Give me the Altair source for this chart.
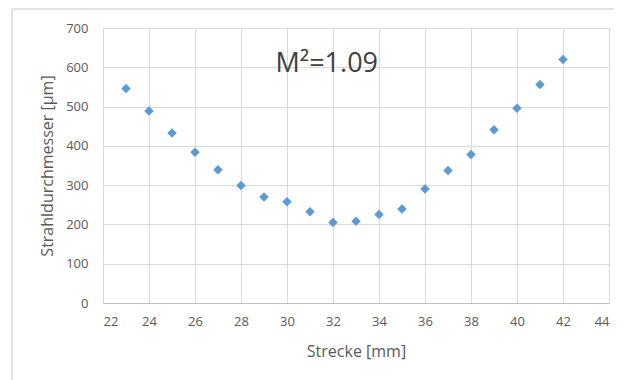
import altair as alt
import pandas as pd

strecke = [23, 24, 25, 26, 27, 28, 29, 30, 31, 32, 33, 34, 35, 36, 37, 38, 39, 40, 41, 42]
durchmesser = [546, 489, 433, 384, 339, 299, 270, 258, 232, 205, 208, 225, 239, 290, 337, 378, 441, 496, 556, 620]
x_ticks = list(range(22, 45, 2))
y_ticks = list(range(0, 701, 100))
annotation_text = ["M²=1.09"]
annotation_x = [29.5]
annotation_y = [608]

df = pd.DataFrame({"Strecke": strecke, "D": durchmesser})
ann = pd.DataFrame({"Strecke": annotation_x, "D": annotation_y, "t": annotation_text})

FONT = "Open Sans"
GRID = "#d9d9d9"
TXT = "#595959"

xscale = alt.Scale(domain=[22, 44], nice=False, zero=False)
yscale = alt.Scale(domain=[0, 700], nice=False)

xaxis = alt.Axis(title="Strecke [mm]", values=x_ticks, grid=True, gridColor=GRID,
                 ticks=False, domainColor="#bfbfbf", labelPadding=12,
                 labelFontSize=13, labelColor=TXT, labelFont=FONT, labelOverlap=False,
                 titleFont=FONT, titleFontSize=16, titleColor=TXT,
                 titleFontWeight="normal", titlePadding=15)
yaxis = alt.Axis(title="Strahldurchmesser [µm]", values=y_ticks, grid=True, gridColor=GRID,
                 ticks=False, domain=False, labelPadding=15, labelOverlap=False,
                 labelFontSize=13, labelColor=TXT, labelFont=FONT,
                 titleFont=FONT, titleFontSize=16, titleColor=TXT,
                 titleFontWeight="normal", titlePadding=10)

points = alt.Chart(df).mark_point(shape="diamond", filled=True, size=90, color="#5B9BD5", opacity=1).encode(
    x=alt.X("Strecke:Q", scale=xscale, axis=xaxis),
    y=alt.Y("D:Q", scale=yscale, axis=yaxis),
)

text = alt.Chart(ann).mark_text(align="left", baseline="middle", fontSize=27, font=FONT,
                                color="#404040").encode(
    x=alt.X("Strecke:Q", scale=xscale, axis=xaxis),
    y=alt.Y("D:Q", scale=yscale, axis=yaxis),
    text="t:N")

frame_top = alt.Chart(ann).mark_rule(stroke=GRID, strokeWidth=1.5).encode(
    x=alt.value(-91), x2=alt.value(540), y=alt.value(-19))
frame_left = alt.Chart(ann).mark_rule(stroke=GRID, strokeWidth=1.5).encode(
    x=alt.value(-91), y=alt.value(-19), y2=alt.value(420))

chart = alt.layer(frame_top, frame_left, points, text).properties(
    width=506, height=275,
    padding={"left": 95, "top": 20, "right": 5, "bottom": 90},
    autosize=alt.AutoSizeParams(type="none"),
    background="white",
).configure_view(stroke=GRID)

chart.save("out.html", embed_options={"renderer": "svg", "actions": False})
